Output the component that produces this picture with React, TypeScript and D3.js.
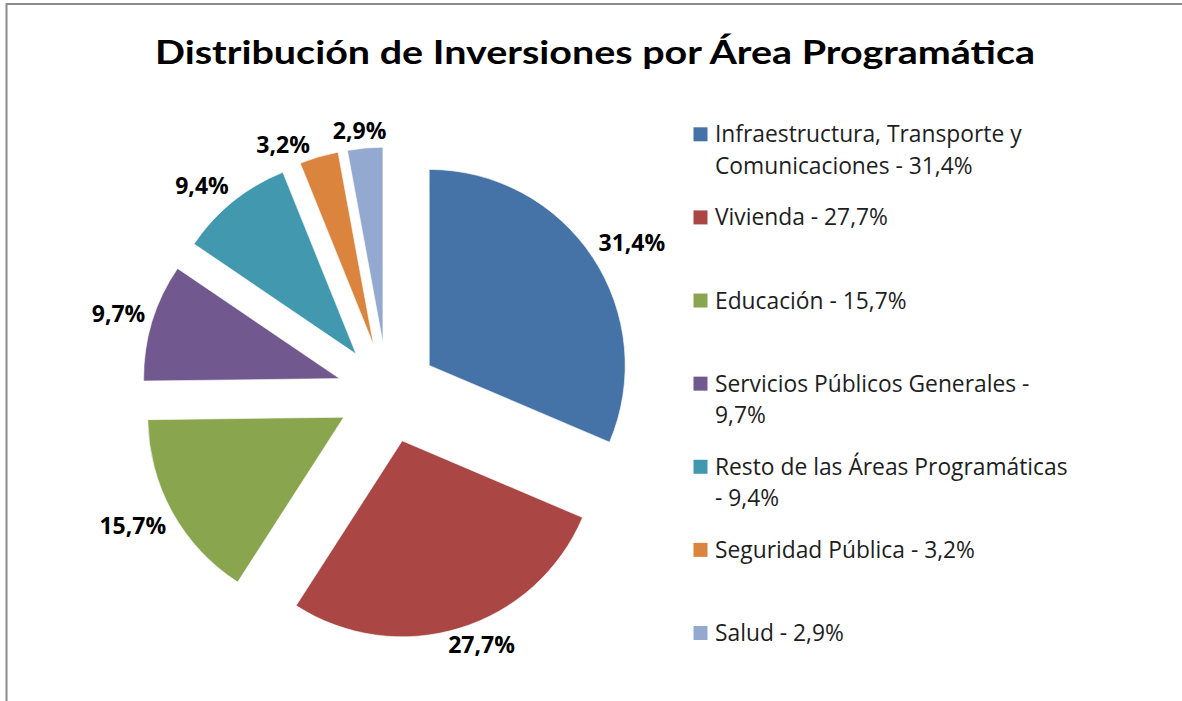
import React from "react";
import * as d3 from "d3";

const categories = [
  "Infraestructura, Transporte y Comunicaciones",
  "Vivienda",
  "Educación",
  "Servicios Públicos Generales",
  "Resto de las Áreas Programáticas",
  "Seguridad Pública",
  "Salud",
];
const values = [31.4, 27.7, 15.7, 9.7, 9.4, 3.2, 2.9];
const colors = ["#4572A7", "#AA4643", "#89A54E", "#71588F", "#4198AF", "#DB843D", "#93A9CF"];
const legendLines = [
  ["Infraestructura, Transporte y", "Comunicaciones - 31,4%"],
  ["Vivienda - 27,7%"],
  ["Educación - 15,7%"],
  ["Servicios Públicos Generales -", "9,7%"],
  ["Resto de las Áreas Programáticas", "- 9,4%"],
  ["Seguridad Pública - 3,2%"],
  ["Salud - 2,9%"],
];
const title = "Distribución de Inversiones por Área Programática";

const W = 1182;
const H = 701;
const cx = 387.5;
const cy = 393;
const R = 196;
const EXPLODE = 50;
const TITLE_FONT = "Lato, 'Open Sans', sans-serif";
const FONT = "'Open Sans', Lato, sans-serif";

const fmt = (v: number) => d3.format(".1f")(v).replace(".", ",") + "%";

type Lab = { text: string; angle: number; w: number; h: number; x: number; y: number };

const clamp1 = (t: number) => Math.max(-1, Math.min(1, t));

function placeLabel(l: Lab) {
  const dx = Math.sin(l.angle);
  const dy = -Math.cos(l.angle);
  const base = R + EXPLODE + 7;
  l.x = dx * base + (l.w / 2) * clamp1(dx * 2);
  l.y = dy * base + (l.h / 2) * clamp1(dy * 2);
}

export default function App() {
  const pie = d3.pie<number>().sort(null).value((d) => d)(values);
  const arc = d3.arc<d3.PieArcDatum<number>>().innerRadius(0).outerRadius(R);
  const labelSize = 23;
  const legendSize = 22.8;
  const legendY = d3.scalePoint<number>().domain(d3.range(categories.length)).range([142.3, 641]);

  const labels: Lab[] = pie.map((p, i) => {
    const text = fmt(values[i]);
    const l: Lab = {
      text,
      angle: (p.startAngle + p.endAngle) / 2,
      w: text.length * 0.58 * labelSize,
      h: labelSize * 0.9,
      x: 0,
      y: 0,
    };
    placeLabel(l);
    return l;
  });
  // push neighbouring labels apart (best-fit style)
  for (let i = labels.length - 1; i > 0; i--) {
    const a = labels[i - 1];
    const b = labels[i];
    let guard = 0;
    while (guard++ < 200) {
      const vOverlap = Math.abs(a.y - b.y) < (a.h + b.h) / 2;
      const gap = Math.abs(b.x - a.x) - (a.w + b.w) / 2;
      if (!(vOverlap && gap < 22)) break;
      a.angle -= 0.005;
      placeLabel(a);
    }
  }

  return (
    <svg width={W} height={H} style={{ position: "absolute", left: 0, top: 0, background: "#fff" }}>
      <rect x={0} y={0} width={W} height={H} fill="#fff" />
      <line x1={6.5} y1={4} x2={W} y2={4} stroke="#8c8c8c" strokeWidth={2} />
      <line x1={6.5} y1={3} x2={6.5} y2={H} stroke="#8c8c8c" strokeWidth={2} />
      <text
        x={595}
        y={64.3}
        textAnchor="middle"
        fontFamily={TITLE_FONT}
        fontWeight="bold"
        fontSize={31.5}
        fill="#000"
        textLength={880}
        lengthAdjust="spacingAndGlyphs"
      >
        {title}
      </text>
      <g transform={`translate(${cx},${cy})`}>
        {pie.map((p, i) => {
          const mid = (p.startAngle + p.endAngle) / 2;
          const dx = Math.sin(mid);
          const dy = -Math.cos(mid);
          return (
            <path
              key={i}
              d={arc(p) || ""}
              transform={`translate(${dx * EXPLODE},${dy * EXPLODE})`}
              fill={colors[i]}
              stroke="#fff"
              strokeWidth={0.6}
            />
          );
        })}
        {labels.map((l, i) => (
          <text
            key={"l" + i}
            x={l.x}
            y={l.y}
            dy="0.36em"
            textAnchor="middle"
            fontFamily={FONT}
            fontWeight="bold"
            fontSize={labelSize}
            fill="#000"
          >
            {l.text}
          </text>
        ))}
      </g>
      <g>
        {categories.map((c, i) => {
          const y = legendY(i) as number;
          return (
            <g key={c}>
              <rect x={693.5} y={y - 15} width={14} height={14} fill={colors[i]} />
              {legendLines[i].map((line, j) => (
                <text
                  key={j}
                  x={715}
                  y={y + j * 31.7}
                  fontFamily={FONT}
                  fontSize={legendSize}
                  fill="#1e1e1e"
                >
                  {line}
                </text>
              ))}
            </g>
          );
        })}
      </g>
    </svg>
  );
}
